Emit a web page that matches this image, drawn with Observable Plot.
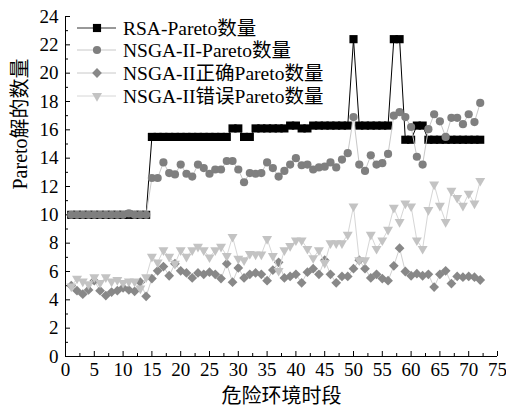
<!DOCTYPE html>
<html><head><meta charset="utf-8">
<script src="https://cdn.jsdelivr.net/npm/d3@7"></script>
<script src="https://cdn.jsdelivr.net/npm/@observablehq/plot@0.6"></script>
<style>
body{margin:0;background:#fff;}
#chart svg, #chart svg text{font-family:"Liberation Serif","Noto Sans CJK SC",serif !important;}
</style>
</head><body><div id="chart"></div>
<script>
const periods = [1,2,3,4,5,6,7,8,9,10,11,12,13,14,15,16,17,18,19,20,21,22,23,24,25,26,27,28,29,30,31,32,33,34,35,36,37,38,39,40,41,42,43,44,45,46,47,48,49,50,51,52,53,54,55,56,57,58,59,60,61,62,63,64,65,66,67,68,69,70,71,72];

const rsaPareto = [10,10,10,10,10,10,10,10,10,10,10,10,10,10,
  15.5,15.5,15.5,15.5,15.5,15.5,15.5,15.5,15.5,15.5,15.5,15.5,15.5,15.5,
  16.1,16.1,15.5,15.5,16.1,16.1,16.1,16.1,16.1,16.1,16.3,16.3,16.1,16.1,
  16.3,16.3,16.3,16.3,16.3,16.3,16.3,22.4,16.3,16.3,16.3,16.3,16.3,16.3,
  22.4,22.4,15.3,15.3,16.3,16.3,15.3,15.3,15.3,15.3,15.3,15.3,15.3,15.3,15.3,15.3];

const nsgaPareto = [10,10,10,10,10,10,10,10,10,10,10.1,10,10,10,
  12.6,12.6,13.7,12.95,12.85,13.55,12.9,12.7,13.55,13.3,12.9,13.2,13.2,13.8,
  13.8,13.2,12.3,12.95,12.9,12.95,13.7,13.3,12.7,13.1,13.55,14.0,13.5,13.55,
  13.2,13.35,13.4,13.7,13.35,13.9,14.35,16.9,13.55,13.1,14.2,13.55,13.65,14.3,
  17.0,17.25,16.9,16.2,14.1,13.55,16.05,17.1,16.6,15.5,16.85,16.85,16.4,17.1,16.55,17.9];

const nsgaCorrect = [5.0,4.65,4.4,4.7,5.35,4.65,4.3,4.55,4.65,4.85,4.7,4.6,5.25,4.25,
  5.5,6.05,6.35,5.7,6.55,6.05,5.9,5.55,5.9,5.8,5.95,5.8,5.5,6.55,
  5.25,6.25,5.55,5.8,5.9,5.8,5.35,6.1,6.65,5.55,5.65,5.8,5.2,5.95,
  6.2,5.8,6.8,5.8,5.2,5.65,5.65,6.2,6.8,6.2,5.55,5.8,5.5,5.35,
  6.4,7.65,6.0,5.7,5.85,5.7,5.8,4.9,5.8,6.05,5.15,5.65,5.6,5.65,5.6,5.4];

const nsgaWrong = [4.95,5.5,5.3,5.1,5.6,5.2,5.6,5.3,5.4,5.2,5.3,5.3,4.8,5.6,
  7.05,6.65,7.5,7.05,6.55,7.5,7.05,7.5,7.75,7.5,7.0,7.5,7.75,7.1,
  8.45,6.9,6.8,7.25,7.2,7.2,8.3,7.1,6.05,7.5,7.8,8.2,8.2,7.6,
  6.95,7.5,6.6,8.0,8.0,8.0,8.6,10.6,6.8,6.8,8.6,7.6,8.2,8.95,
  10.5,9.5,10.8,10.6,8.2,7.6,10.35,12.15,10.65,9.5,11.7,11.2,10.65,11.5,10.8,12.4];

const seriesNames = ["RSA-Pareto数量","NSGA-II-Pareto数量","NSGA-II正确Pareto数量","NSGA-II错误Pareto数量"];
const xTicks = [0,5,10,15,20,25,30,35,40,45,50,55,60,65,70,75];
const xMinor = [2.5,7.5,12.5,17.5,22.5,27.5,32.5,37.5,42.5,47.5,52.5,57.5,62.5,67.5,72.5];
const yTicks = [0,2,4,6,8,10,12,14,16,18,20,22,24];
const yMinor = [1,3,5,7,9,11,13,15,17,19,21,23];
const xTitle = "危险环境时段";
const yTitle = "Pareto解的数量";

const styles = [
  {values: rsaPareto, symbol: "square", r: 4.6, fill: "#000", line: "#000", rotate: 0},
  {values: nsgaPareto, symbol: "circle", r: 4.1, fill: "#7f7f7f", line: "#c8c8c8", rotate: 0},
  {values: nsgaCorrect, symbol: "diamond2", r: 4.4, fill: "#888", line: "#d0d0d0", rotate: 0},
  {values: nsgaWrong, symbol: "triangle", r: 3.7, fill: "#c3c3c3", line: "#d6d6d6", rotate: 180}
];

const W = 506, H = 412;
const mL = 65, mR = 9, mT = 16, mB = 56;
const fw = W - mL - mR, fh = H - mT - mB;

const marks = [];
for (const s of styles) {
  const data = periods.map((p, i) => ({x: p, y: s.values[i]}));
  marks.push(Plot.line(data, {x: "x", y: "y", stroke: s.line, strokeWidth: 1}));
  marks.push(Plot.dot(data, {x: "x", y: "y", symbol: () => s.symbol, r: s.r, fill: s.fill, stroke: "none", rotate: s.rotate}));
}

const plot = Plot.plot({
  width: W, height: H,
  marginLeft: mL, marginRight: mR, marginTop: mT, marginBottom: mB,
  style: {background: "#fff", color: "#000", fontSize: "19px"},
  x: {domain: [0, 75]},
  y: {domain: [0, 24]},
  symbol: {type: "identity"},
  marks: [
    Plot.tickX(xTicks, {x: d => d, insetTop: fh - 5, stroke: "#000"}),
    Plot.tickX(xMinor, {x: d => d, insetTop: fh - 3, stroke: "#000"}),
    Plot.tickY(yTicks, {y: d => d, insetRight: fw - 5, stroke: "#000"}),
    Plot.tickY(yMinor, {y: d => d, insetRight: fw - 3, stroke: "#000"}),
    Plot.axisX({ticks: xTicks, tickSize: 0, tickPadding: 6, label: null, fontSize: 19}),
    Plot.axisY({ticks: yTicks, tickSize: 0, tickPadding: 7, label: null, fontSize: 19}),
    Plot.text([xTitle], {frameAnchor: "bottom", dy: 46, fontSize: 20, fill: "#000"}),
    Plot.text([yTitle], {frameAnchor: "left", dx: -45, dy: 3, rotate: -90, fontSize: 20, fill: "#000"}),
    ...marks,
    Plot.ruleX([0], {stroke: "#000"}),
    Plot.ruleY([0], {stroke: "#000"})
  ]
});

document.getElementById("chart").appendChild(plot);

// legend inside plot area (top-left)
const svg = d3.select(plot.tagName === "svg" ? plot : plot.querySelector("svg"));
const lg = svg.append("g").attr("font-size", 19.5).attr("text-anchor", "start");
const legendY = [28, 50, 73, 96];
const legendLine = ["#333", "#c8c8c8", "#c8c8c8", "#d6d6d6"];
const symMap = {square: d3.symbolSquare, circle: d3.symbolCircle, diamond2: d3.symbolDiamond2, triangle: d3.symbolTriangle};
styles.forEach((s, i) => {
  const y = legendY[i];
  lg.append("line").attr("x1", 77).attr("x2", 116).attr("y1", y).attr("y2", y).attr("stroke", legendLine[i]).attr("stroke-width", 1);
  lg.append("path").attr("d", d3.symbol(symMap[s.symbol], Math.PI * s.r * s.r)())
    .attr("transform", `translate(97,${y}) rotate(${s.rotate})`).attr("fill", s.fill);
  lg.append("text").attr("x", 123).attr("y", y).attr("dy", "0.35em").attr("text-anchor", "start").attr("fill", "#000").text(seriesNames[i]);
});
</script>
</body></html>
